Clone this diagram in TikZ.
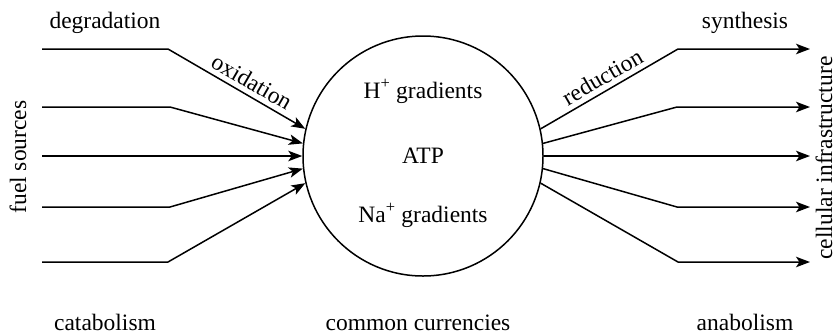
\documentclass[tikz,border=0pt]{standalone}
\usepackage{fontspec}
\setmainfont{Liberation Serif}
\usetikzlibrary{arrows.meta}
\tikzset{
  currency/.style={circle, draw=black, line width=1.5pt, minimum size=240pt, inner sep=0pt},
  txt/.style={font=\fontsize{23.5}{28}\selectfont, inner sep=0pt},
  flow/.style={line width=1.5pt, -{Stealth[length=14pt, width=10.5pt, inset=3.5pt]}}
}

\begin{document}
\begin{tikzpicture}[x=1pt, y=-1pt]
    \useasboundingbox (0,0) rectangle (835,333);

    % === CENTRO: monedas comunes ===
    \node (cur) [currency] at (423,156) {};
    \node (hgrad) [txt, anchor=base] at (423,98) {H\textsuperscript{+} gradients};
    \node (atp) [txt, anchor=base] at (423,163) {ATP};
    \node (nagrad) [txt, anchor=base] at (423,222) {Na\textsuperscript{+} gradients};

    % === IZQUIERDA: catabolismo ===
    \coordinate (fs1) at (42,49);
    \coordinate (fs2) at (42,107);
    \coordinate (fs3) at (42,156);
    \coordinate (fs4) at (42,207);
    \coordinate (fs5) at (42,262);

    \draw [flow] (fs1) -- ++(126,0) -- node[txt, pos=0.56, above=5pt, sloped]{oxidation} (cur.167);
    \draw [flow] (fs2) -- ++(128,0) -- (cur.174);
    \draw [flow] (fs3) -- (cur.180);
    \draw [flow] (fs4) -- ++(128,0) -- (cur.186);
    \draw [flow] (fs5) -- ++(126,0) -- (cur.193);

    \node (degr) [txt, anchor=base] at (105,28) {degradation};
    \node (fuel) [txt, rotate=90] at (18,157) {fuel sources};
    \node (catab) [txt, anchor=base] at (105,330) {catabolism};

    % === DERECHA: anabolismo ===
    \coordinate (ci1) at (810,49);
    \coordinate (ci2) at (810,107);
    \coordinate (ci3) at (810,156);
    \coordinate (ci4) at (810,207);
    \coordinate (ci5) at (810,262);

    \draw [flow] (cur.13) -- node[txt, midway, above=5pt, sloped]{reduction} ([xshift=-132pt]ci1) -- (ci1);
    \draw [flow] (cur.6) -- ([xshift=-133pt]ci2) -- (ci2);
    \draw [flow] (cur.0) -- (ci3);
    \draw [flow] (cur.-6) -- ([xshift=-133pt]ci4) -- (ci4);
    \draw [flow] (cur.-13) -- ([xshift=-132pt]ci5) -- (ci5);

    \node (synth) [txt, anchor=base] at (745,28) {synthesis};
    \node (cell) [txt, rotate=90] at (824,158) {cellular infrastructure};
    \node (anab) [txt, anchor=base] at (745,330) {anabolism};

    \node (common) [txt, anchor=base] at (418,330) {common currencies};
\end{tikzpicture}
\end{document}
